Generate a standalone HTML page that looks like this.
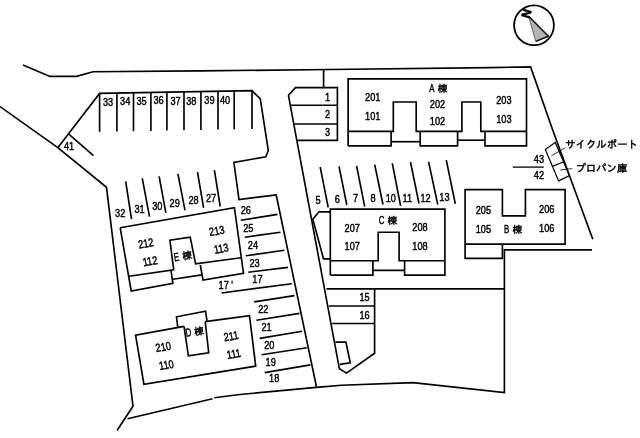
<!DOCTYPE html>
<html lang="ja"><head><meta charset="utf-8"><title>配置図</title>
<style>
html,body{margin:0;padding:0;background:#fff}
body{width:640px;height:438px;overflow:hidden}
svg{display:block;will-change:transform}
.l{fill:none;stroke:#000;stroke-linecap:butt;stroke-linejoin:miter}
text{font-family:"Liberation Sans","IPAGothic","Noto Sans CJK JP",sans-serif;fill:#000;stroke:#000;stroke-width:0.45px}
.k{font-family:"Liberation Sans","IPAGothic","Noto Sans CJK JP",sans-serif}
</style></head><body>
<svg width="640" height="438" viewBox="0 0 640 438">
<rect width="640" height="438" fill="#fff"/>
<g class="l">
<path d="M23.0 65.0 L50.0 76.4 L76.6 76.4 L93.0 71.7 L200.0 70.9 L330.0 69.5 L490.0 67.6 L530.6 66.9 L552.7 130.0 L592.8 239.3" stroke-width="1.65"/>
<path d="M323.6 69.5 L323.6 87.6" stroke-width="1.65"/>
<path d="M0.0 106.6 L57.8 147.7 L106.5 187.3 L133.0 406.3 L117.0 430.5" stroke-width="1.65"/>
<path d="M127.5 418.8 L212.5 398.8" stroke-width="1.65"/>
<path d="M214.3 397.7 L240.0 394.5 L316.5 387.4 L341.3 385.2 L413.0 382.7 L504.4 392.5 L504.4 249.8 L592.0 249.8" stroke-width="1.65"/>
<path d="M57.8 147.7 L99.6 93.4 L252.0 90.6 L260.3 99.0 L268.3 150.5 L265.8 156.7 L233.9 162.5 L239.0 199.5 L276.2 195.0 L316.5 387.0" stroke-width="1.65"/>
<path d="M69.1 134.4 L93.5 155.7" stroke-width="1.65"/>
<path d="M99.6 93.4 L99.6 131.8" stroke-width="1.65"/>
<path d="M116.9 93.1 L116.9 131.5" stroke-width="1.65"/>
<path d="M133.5 92.8 L133.5 131.2" stroke-width="1.65"/>
<path d="M150.9 92.5 L150.9 130.9" stroke-width="1.65"/>
<path d="M166.9 92.2 L166.9 130.6" stroke-width="1.65"/>
<path d="M184.0 91.8 L184.0 130.3" stroke-width="1.65"/>
<path d="M200.9 91.5 L200.9 129.9" stroke-width="1.65"/>
<path d="M218.0 91.2 L218.0 129.6" stroke-width="1.65"/>
<path d="M234.2 90.9 L234.2 129.3" stroke-width="1.65"/>
<path d="M252.0 90.6 L252.0 129.0" stroke-width="1.65"/>
<path d="M288.4 95.2 L295.5 87.6 L337.4 87.6 L337.4 140.4 L297.5 140.4" stroke-width="1.65"/>
<path d="M291.0 105.2 L337.4 105.2" stroke-width="1.65"/>
<path d="M294.2 124.0 L337.4 124.0" stroke-width="1.65"/>
<path d="M288.4 95.2 L339.4 368.8 L346.5 373.1 L374.6 353.2 L374.6 288.9" stroke-width="1.65"/>
<path d="M326.4 288.9 L504.4 288.9" stroke-width="1.65"/>
<path d="M328.9 306.0 L374.6 306.0" stroke-width="1.65"/>
<path d="M332.2 323.5 L374.6 323.5" stroke-width="1.65"/>
<path d="M335.3 342.1 L345.9 342.1 L350.3 362.8 L339.8 364.4" stroke-width="1.65"/>
<path d="M348.1 145.9 L348.1 78.8 L526.5 78.8 L526.5 145.9 L485.0 145.9 L485.0 131.3 L526.5 131.3" stroke-width="1.65"/>
<path d="M348.1 131.3 L393.3 131.3 L393.3 102.0 L416.2 102.0 L416.2 131.3 L461.9 131.3 L461.9 102.0 L480.8 102.0 L480.8 131.3 L485.0 131.3" stroke-width="1.65"/>
<path d="M348.1 145.9 L391.1 145.9 L391.1 131.3" stroke-width="1.65"/>
<path d="M391.1 141.7 L420.2 141.7" stroke-width="1.65"/>
<path d="M420.2 131.3 L420.2 145.9 L457.6 145.9 L457.6 131.3" stroke-width="1.65"/>
<path d="M457.6 140.2 L485.0 140.2" stroke-width="1.65"/>
<path d="M320.2 167.1 L328.2 207.3" stroke-width="1.65"/>
<path d="M339.0 166.4 L346.8 205.0" stroke-width="1.65"/>
<path d="M356.6 165.9 L364.7 206.6" stroke-width="1.65"/>
<path d="M374.7 164.6 L383.0 204.5" stroke-width="1.65"/>
<path d="M392.3 163.4 L400.6 205.8" stroke-width="1.65"/>
<path d="M410.5 162.1 L419.0 203.5" stroke-width="1.65"/>
<path d="M428.6 161.8 L437.8 204.7" stroke-width="1.65"/>
<path d="M446.3 160.1 L455.3 203.8" stroke-width="1.65"/>
<path d="M330.3 275.1 L330.3 209.1 L444.9 209.1 L444.9 275.1 L404.6 275.1 L404.6 260.7" stroke-width="1.65"/>
<path d="M330.3 260.7 L378.2 260.7 L378.2 232.2 L399.1 232.2 L399.1 260.7 L444.9 260.7" stroke-width="1.65"/>
<path d="M330.3 275.1 L372.9 275.1 L372.9 260.7" stroke-width="1.65"/>
<path d="M372.9 270.3 L404.6 270.3" stroke-width="1.65"/>
<path d="M330.3 211.8 L319.0 211.8 L312.8 219.1 L323.5 258.8 L330.3 258.8" stroke-width="1.65"/>
<path d="M465.1 189.6 L502.4 189.6 L502.4 215.9 L525.4 215.9 L525.4 189.6 L565.1 189.6 L565.1 244.1 L465.1 244.1 Z" stroke-width="1.65"/>
<path d="M465.1 244.1 L465.1 258.4 L502.4 258.4 L502.4 244.1" stroke-width="1.65"/>
<path d="M512.8 167.1 L543.8 167.1" stroke-width="1.3"/>
<path d="M545.3 149.4 L555.3 142.4 L569.4 175.6 L558.6 180.9 Z" stroke-width="1.2"/>
<path d="M551.9 166.6 L563.7 161.8" stroke-width="1.2"/>
<path d="M551.5 155.7 L565.3 147.8" stroke-width="0.8"/>
<path d="M560.3 170.0 L572.3 168.6" stroke-width="0.8"/>
<path d="M125.7 181.4 L131.5 219.1" stroke-width="1.65"/>
<path d="M142.3 178.4 L149.5 216.6" stroke-width="1.65"/>
<path d="M159.1 176.4 L165.9 212.8" stroke-width="1.65"/>
<path d="M177.9 173.9 L185.0 210.3" stroke-width="1.65"/>
<path d="M197.5 172.1 L203.6 207.8" stroke-width="1.65"/>
<path d="M214.4 170.1 L220.2 206.5" stroke-width="1.65"/>
<path d="M120.2 227.8 L234.4 207.6 L243.5 273.3 L203.0 280.0 L200.3 265.0" stroke-width="1.65"/>
<path d="M120.2 227.8 L131.2 291.0 L172.9 283.4 L171.0 270.5" stroke-width="1.65"/>
<path d="M129.0 276.3 L173.7 269.7 L169.9 240.3 L190.2 237.1 L195.6 263.8 L241.0 257.8" stroke-width="1.65"/>
<path d="M172.9 279.2 L201.8 274.9" stroke-width="1.65"/>
<path d="M240.8 220.2 L277.5 214.4" stroke-width="1.65"/>
<path d="M244.8 237.2 L280.5 232.2" stroke-width="1.65"/>
<path d="M245.8 255.8 L284.3 250.3" stroke-width="1.65"/>
<path d="M248.3 272.2 L288.0 267.4" stroke-width="1.65"/>
<path d="M221.5 293.0 L291.8 283.7" stroke-width="1.65"/>
<path d="M254.2 301.9 L294.5 295.6" stroke-width="1.65"/>
<path d="M256.4 320.3 L299.5 313.4" stroke-width="1.65"/>
<path d="M259.7 338.4 L302.2 331.2" stroke-width="1.65"/>
<path d="M261.6 354.8 L306.8 347.7" stroke-width="1.65"/>
<path d="M264.7 372.6 L310.4 364.9" stroke-width="1.65"/>
<path d="M184.0 326.4 L135.6 335.2 L143.9 384.2 L255.7 366.1 L249.5 315.6 L205.2 321.6" stroke-width="1.65"/>
<path d="M177.8 327.5 L176.5 316.8 L205.5 311.2 L207.0 320.8" stroke-width="1.65"/>
<path d="M184.0 326.4 L188.4 355.9 L208.7 352.7 L205.2 321.6" stroke-width="1.65"/>
</g>
<g>
<circle cx="534.0" cy="25.3" r="19.9" fill="none" stroke="#000" stroke-width="1.8"/>
<path d="M528.4 16 L535.8 41.4 L548.4 36.2 Z" fill="#b4b4b4" stroke="#333" stroke-width="0.7" stroke-linejoin="round"/>
<path d="M528.4 16 L548.4 36.2 L535.8 41.4" stroke="#111" stroke-width="1.5" fill="none" stroke-linejoin="round"/>
<text transform="translate(526.5 13.6) rotate(-72)" font-size="12" font-weight="bold" text-anchor="middle" dominant-baseline="central" style="stroke-width:0.6px">N</text>
</g>
<g>
<text transform="translate(108.1 106.2) scale(0.8 1)" font-size="11.5" text-anchor="middle">33</text>
<text transform="translate(125.2 104.6) scale(0.8 1)" font-size="11.5" text-anchor="middle">34</text>
<text transform="translate(141.6 104.6) scale(0.8 1)" font-size="11.5" text-anchor="middle">35</text>
<text transform="translate(158.6 103.5) scale(0.8 1)" font-size="11.5" text-anchor="middle">36</text>
<text transform="translate(175.5 104.8) scale(0.8 1)" font-size="11.5" text-anchor="middle">37</text>
<text transform="translate(191.3 104.7) scale(0.8 1)" font-size="11.5" text-anchor="middle">38</text>
<text transform="translate(209.4 103.7) scale(0.8 1)" font-size="11.5" text-anchor="middle">39</text>
<text transform="translate(225.0 103.5) scale(0.8 1)" font-size="11.5" text-anchor="middle">40</text>
<text transform="translate(69.1 150.2) scale(0.8 1)" font-size="11.5" text-anchor="middle">41</text>
<text transform="translate(327.6 100.7) scale(0.8 1)" font-size="11.5" text-anchor="middle">1</text>
<text transform="translate(327.6 117.8) scale(0.8 1)" font-size="11.5" text-anchor="middle">2</text>
<text transform="translate(327.6 136.2) scale(0.8 1)" font-size="11.5" text-anchor="middle">3</text>
<text transform="translate(372.7 101.0) scale(0.8 1)" font-size="11.5" text-anchor="middle">201</text>
<text transform="translate(372.7 119.6) scale(0.8 1)" font-size="11.5" text-anchor="middle">101</text>
<text transform="translate(437.5 107.8) scale(0.8 1)" font-size="11.5" text-anchor="middle">202</text>
<text transform="translate(437.5 125.4) scale(0.8 1)" font-size="11.5" text-anchor="middle">102</text>
<text transform="translate(503.9 104.0) scale(0.8 1)" font-size="11.5" text-anchor="middle">203</text>
<text transform="translate(503.9 123.3) scale(0.8 1)" font-size="11.5" text-anchor="middle">103</text>
<text transform="translate(318.0 204.1) scale(0.8 1)" font-size="11.5" text-anchor="middle">5</text>
<text transform="translate(337.2 203.3) scale(0.8 1)" font-size="11.5" text-anchor="middle">6</text>
<text transform="translate(355.6 202.3) scale(0.8 1)" font-size="11.5" text-anchor="middle">7</text>
<text transform="translate(373.0 201.6) scale(0.8 1)" font-size="11.5" text-anchor="middle">8</text>
<text transform="translate(390.8 201.5) scale(0.8 1)" font-size="11.5" text-anchor="middle">10</text>
<text transform="translate(407.4 201.8) scale(0.8 1)" font-size="11.5" text-anchor="middle">11</text>
<text transform="translate(425.6 201.8) scale(0.8 1)" font-size="11.5" text-anchor="middle">12</text>
<text transform="translate(444.4 201.3) scale(0.8 1)" font-size="11.5" text-anchor="middle">13</text>
<text transform="translate(352.2 231.8) scale(0.8 1)" font-size="11.5" text-anchor="middle">207</text>
<text transform="translate(352.2 250.1) scale(0.8 1)" font-size="11.5" text-anchor="middle">107</text>
<text transform="translate(420.0 230.8) scale(0.8 1)" font-size="11.5" text-anchor="middle">208</text>
<text transform="translate(420.0 249.5) scale(0.8 1)" font-size="11.5" text-anchor="middle">108</text>
<text transform="translate(483.4 213.5) scale(0.8 1)" font-size="11.5" text-anchor="middle">205</text>
<text transform="translate(483.4 232.8) scale(0.8 1)" font-size="11.5" text-anchor="middle">105</text>
<text transform="translate(546.7 213.4) scale(0.8 1)" font-size="11.5" text-anchor="middle">206</text>
<text transform="translate(546.7 231.5) scale(0.8 1)" font-size="11.5" text-anchor="middle">106</text>
<text transform="translate(538.9 163.2) scale(0.8 1)" font-size="11.5" text-anchor="middle">43</text>
<text transform="translate(538.9 179.2) scale(0.8 1)" font-size="11.5" text-anchor="middle">42</text>
<text transform="translate(364.6 300.8) scale(0.8 1)" font-size="11.5" text-anchor="middle">15</text>
<text transform="translate(364.6 319.1) scale(0.8 1)" font-size="11.5" text-anchor="middle">16</text>
<text transform="translate(120.2 216.6) scale(0.8 1)" font-size="11.5" text-anchor="middle">32</text>
<text transform="translate(139.5 213.3) scale(0.8 1)" font-size="11.5" text-anchor="middle">31</text>
<text transform="translate(157.3 209.8) scale(0.8 1)" font-size="11.5" text-anchor="middle">30</text>
<text transform="translate(174.7 207.3) scale(0.8 1)" font-size="11.5" text-anchor="middle">29</text>
<text transform="translate(193.5 203.5) scale(0.8 1)" font-size="11.5" text-anchor="middle">28</text>
<text transform="translate(211.1 201.5) scale(0.8 1)" font-size="11.5" text-anchor="middle">27</text>
<text transform="translate(245.8 214.4) scale(0.8 1)" font-size="11.5" text-anchor="middle">26</text>
<text transform="translate(248.3 232.2) scale(0.8 1)" font-size="11.5" text-anchor="middle">25</text>
<text transform="translate(252.9 249.1) scale(0.8 1)" font-size="11.5" text-anchor="middle">24</text>
<text transform="translate(254.6 267.2) scale(0.8 1)" font-size="11.5" text-anchor="middle">23</text>
<text transform="translate(257.4 283.0) scale(0.8 1)" font-size="11.5" text-anchor="middle">17</text>
<text transform="translate(225.8 288.8) scale(0.8 1)" font-size="11.5" text-anchor="middle">17 '</text>
<text transform="translate(263.3 312.6) scale(0.8 1)" font-size="11.5" text-anchor="middle">22</text>
<text transform="translate(266.6 331.2) scale(0.8 1)" font-size="11.5" text-anchor="middle">21</text>
<text transform="translate(269.3 349.0) scale(0.8 1)" font-size="11.5" text-anchor="middle">20</text>
<text transform="translate(270.7 366.0) scale(0.8 1)" font-size="11.5" text-anchor="middle">19</text>
<text transform="translate(274.2 382.4) scale(0.8 1)" font-size="11.5" text-anchor="middle">18</text>
<text transform="translate(146.6 247.2) rotate(-10) scale(0.8 1)" font-size="11.5" text-anchor="middle">212</text>
<text transform="translate(150.7 265.1) rotate(-10) scale(0.8 1)" font-size="11.5" text-anchor="middle">112</text>
<text transform="translate(217.4 234.7) rotate(-10) scale(0.8 1)" font-size="11.5" text-anchor="middle">213</text>
<text transform="translate(221.9 252.5) rotate(-10) scale(0.8 1)" font-size="11.5" text-anchor="middle">113</text>
<text transform="translate(163.9 350.7) rotate(-10) scale(0.8 1)" font-size="11.5" text-anchor="middle">210</text>
<text transform="translate(167.0 368.8) rotate(-10) scale(0.8 1)" font-size="11.5" text-anchor="middle">110</text>
<text transform="translate(231.8 340.0) rotate(-10) scale(0.8 1)" font-size="11.5" text-anchor="middle">211</text>
<text transform="translate(234.5 357.8) rotate(-10) scale(0.8 1)" font-size="11.5" text-anchor="middle">111</text>
<g transform="translate(429.2 92.1)"><text transform="scale(0.68 1)" font-size="11.5">A</text><text x="8.6" y="0" font-size="9.8" class="k">棟</text></g>
<g transform="translate(378.8 223.6)"><text transform="scale(0.68 1)" font-size="11.5">C</text><text x="8.6" y="0" font-size="9.8" class="k">棟</text></g>
<g transform="translate(504.0 233.0)"><text transform="scale(0.68 1)" font-size="11.5">B</text><text x="8.6" y="0" font-size="9.8" class="k">棟</text></g>
<g transform="translate(174.6 261.2) rotate(-9)"><text transform="scale(0.68 1)" font-size="11.5">E</text><text x="8.6" y="0" font-size="9.8" class="k">棟</text></g>
<g transform="translate(186.2 336.8) rotate(-9)"><text transform="scale(0.68 1)" font-size="11.5">D</text><text x="8.6" y="0" font-size="9.8" class="k">棟</text></g>
<text x="565.2" y="148" font-size="10.4" class="k" style="stroke-width:0.45px">サイクルポート</text>
<text x="575.4" y="172.4" font-size="10.4" class="k" style="stroke-width:0.45px">プロパン庫</text>
</g>
</svg>
</body></html>
